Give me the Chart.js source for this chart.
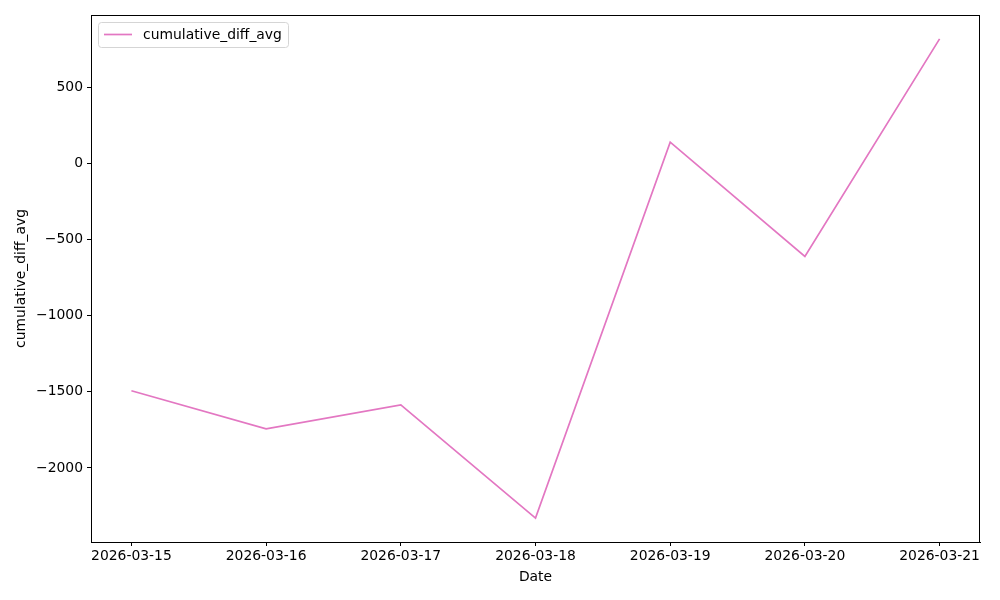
<!DOCTYPE html>
<html lang="en">
<head>
    <meta charset="UTF-8">
    <title>cumulative_diff_avg</title>
    <style>
        html, body { margin: 0; padding: 0; background: #fff; }
        #wrap { width: 1000px; height: 600px; }
    </style>
</head>
<body>
    <div id="wrap"><canvas id="mychart" width="1000" height="600"></canvas></div>
    <script src="https://cdn.jsdelivr.net/npm/chart.js"></script>
    <script>
        // values
        const dates = ['2026-03-15', '2026-03-16', '2026-03-17', '2026-03-18', '2026-03-19', '2026-03-20', '2026-03-21'];
        const cumulativeDiffAvg = [-1493, -1743, -1586, -2329, 138, -612, 816];
        const yTicks = [-2000, -1500, -1000, -500, 0, 500];

        const FONT = 'DejaVu Sans';
        const FS = 13.9;
        const pink = '#e377c2';

        const fmt = v => (v < 0 ? '\u2212' + Math.abs(v) : String(v));

        // box round the plot + matplotlib style legend
        const frame = {
            id: 'frame',
            afterDraw(chart) {
                const { ctx, chartArea: a } = chart;
                ctx.save();
                ctx.strokeStyle = '#000';
                ctx.lineWidth = 1;
                ctx.strokeRect(Math.round(a.left) + 0.5, Math.round(a.top) + 0.5,
                    Math.round(a.right - a.left) - 1, Math.round(a.bottom - a.top));

                // legend
                const lx = a.left + 7, ly = a.top + 7, lw = 190, lh = 25;
                ctx.fillStyle = 'rgba(255,255,255,0.8)';
                ctx.strokeStyle = '#d5d5d5';
                ctx.beginPath();
                ctx.roundRect(lx + 0.5, ly + 0.5, lw, lh, 3);
                ctx.fill();
                ctx.stroke();
                ctx.strokeStyle = pink;
                ctx.lineWidth = 1.7;
                ctx.beginPath();
                ctx.moveTo(lx + 6, ly + 12.5);
                ctx.lineTo(lx + 34, ly + 12.5);
                ctx.stroke();
                ctx.fillStyle = '#000';
                ctx.font = FS + 'px "' + FONT + '"';
                ctx.textBaseline = 'middle';
                ctx.fillText(chart.data.datasets[0].label, lx + 45, ly + 13);
                ctx.restore();
            }
        };

        new Chart(document.getElementById('mychart').getContext('2d'), {
            type: 'line',
            data: {
                datasets: [{
                    label: 'cumulative_diff_avg',
                    data: cumulativeDiffAvg.map((v, i) => ({ x: i, y: v })),
                    borderColor: pink,
                    backgroundColor: pink,
                    borderWidth: 1.7,
                    pointRadius: 0,
                    tension: 0,
                    fill: false
                }]
            },
            options: {
                responsive: false,
                animation: false,
                events: [],
                layout: { padding: { top: 15, right: 20, left: 0, bottom: 0 } },
                plugins: { legend: { display: false }, tooltip: { enabled: false } },
                scales: {
                    x: {
                        type: 'linear',
                        min: -0.3,
                        max: dates.length - 1 + 0.3,
                        afterBuildTicks: axis => { axis.ticks = dates.map((d, i) => ({ value: i })); },
                        afterFit: axis => { axis.height = 58; },
                        ticks: {
                            callback: v => dates[v],
                            color: '#000',
                            font: { family: FONT, size: FS },
                            padding: 2,
                            maxRotation: 0,
                            autoSkip: false
                        },
                        grid: { drawOnChartArea: false, drawTicks: true, tickLength: 4, color: '#000' },
                        border: { display: true, color: '#000' },
                        title: {
                            display: true,
                            text: 'Date',
                            color: '#000',
                            font: { family: FONT, size: FS },
                            padding: { top: 0, bottom: 14 }
                        }
                    },
                    y: {
                        min: -2486,
                        max: 973,
                        afterBuildTicks: axis => { axis.ticks = yTicks.map(v => ({ value: v })); },
                        afterFit: axis => { axis.width = 91; },
                        ticks: {
                            callback: v => fmt(v),
                            color: '#000',
                            font: { family: FONT, size: FS },
                            padding: 4
                        },
                        grid: { drawOnChartArea: false, drawTicks: true, tickLength: 4, color: '#000' },
                        border: { display: true, color: '#000' },
                        title: {
                            display: true,
                            text: 'cumulative_diff_avg',
                            color: '#000',
                            font: { family: FONT, size: FS },
                            padding: { top: 13, bottom: 0 }
                        }
                    }
                }
            },
            plugins: [frame]
        });
    </script>
</body>
</html>
